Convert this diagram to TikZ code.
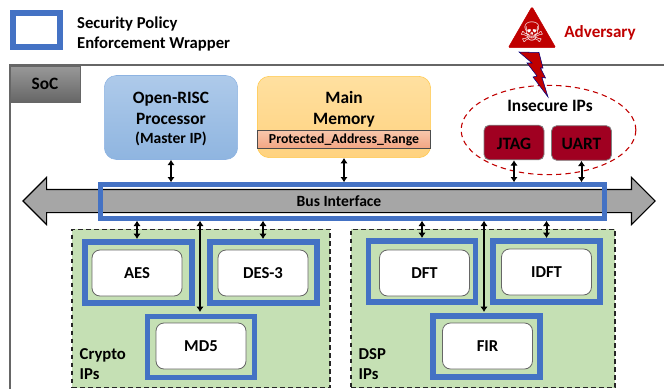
\documentclass[tikz,border=0pt]{standalone}
\usepackage{fontspec}
\usepackage{xcolor}
\usepackage{tikz}
\usetikzlibrary{arrows.meta,shapes.arrows,shapes.geometric}
\setmainfont{Carlito}
\newfontfamily\symbfont{DejaVu Sans}
\definecolor{wrapblue}{HTML}{4472C4}
\definecolor{groupgreen}{HTML}{C5E0B4}
\definecolor{insecred}{HTML}{A00021}
\definecolor{advred}{HTML}{C00000}
\definecolor{cpuedge}{HTML}{8DB3E2}
\definecolor{cputop}{HTML}{AECAEA}
\definecolor{cpubottom}{HTML}{8FB5E0}
\definecolor{memedge}{HTML}{FFC84A}
\definecolor{memtop}{HTML}{FFE0A0}
\definecolor{membottom}{HTML}{FFD27F}
\definecolor{rangetop}{HTML}{F8C8AC}
\definecolor{rangebottom}{HTML}{F3A684}

\begin{document}
\begin{tikzpicture}[x=0.75pt, y=-0.75pt, font=\bfseries\fontsize{12.5}{15.5}\selectfont,
  wrapper/.style={draw=wrapblue, line width=4.2pt, minimum width=80.5pt, minimum height=46pt},
  core/.style={draw=black!60, fill=white, rounded corners=6pt, line width=0.6pt, minimum width=67.5pt, minimum height=34.5pt},
  group/.style={draw=black!85, dash pattern=on 3.5pt off 2.5pt, fill=groupgreen, line width=0.8pt},
  insecure/.style={draw=black!50, fill=insecred, rounded corners=4pt, line width=0.6pt, minimum width=45pt, minimum height=26pt},
  biarrow/.style={{Latex[length=4pt,width=5.5pt]}-{Latex[length=4pt,width=5.5pt]}, line width=1.5pt}]
\useasboundingbox (0,0) rectangle (664,389);

% Legend
\node[wrapper, minimum width=35pt, minimum height=25.5pt, line width=4.5pt] (legend) at (36.5,30) {};
\node[align=left, anchor=west] (legendtext) at (72.5,34) {Security Policy\\Enforcement Wrapper};

% SoC
\draw[black!60, line width=0.8pt] (664,65) -- (10,65) -- (10,389);
\node[draw=black!60, top color=black!40, bottom color=black!60, minimum width=52.5pt, minimum height=27pt, font=\bfseries\fontsize{13}{15}\selectfont] (soc) at (45,84) {SoC};

% Masters and memory
\node[draw=cpuedge, top color=cputop, bottom color=cpubottom, rounded corners=9pt, minimum width=100pt, minimum height=63pt] (cpu) at (171,117.5) {};
\node[align=center, font=\bfseries\fontsize{13}{16}\selectfont] (cputext) at (171,119) {Open-RISC\\Processor\\[-2pt]{\fontsize{11.7}{13}\selectfont (Master IP)}};
\node[draw=memedge, top color=memtop, bottom color=membottom, rounded corners=9pt, minimum width=130pt, minimum height=61pt] (mem) at (344,117) {};
\node[align=center, font=\bfseries\fontsize{13}{16}\selectfont] (memtext) at (344,109.5) {Main\\Memory};
\node[draw=black!70, top color=rangetop, bottom color=rangebottom, minimum width=130pt, minimum height=13.5pt, inner sep=0pt, text height=6.5pt, text depth=0pt, font=\bfseries\fontsize{10.3}{11}\selectfont] (range) at (344,139) {Protected\_Address\_Range};

% Insecure IPs
\node[ellipse, draw=advred, dash pattern=on 4pt off 3pt, line width=0.8pt, minimum width=131pt, minimum height=67pt] (insecellipse) at (548.5,130) {};
\node[font=\bfseries\fontsize{13}{15}\selectfont] (insectext) at (550,106) {Insecure IPs};
\node[insecure, font=\bfseries\fontsize{13}{15}\selectfont] (jtag) at (514,142.5) {};
\node[insecure, font=\bfseries\fontsize{13}{15}\selectfont] (uart) at (581.5,143) {};
\node[font=\bfseries\fontsize{13}{15}\selectfont] (jtagtext) at (514,143.5) {JTAG};
\node[font=\bfseries\fontsize{13}{15}\selectfont] (uarttext) at (581.5,143.5) {UART};

% Adversary
\node[regular polygon, regular polygon sides=3, draw=advred, fill=advred, rounded corners=1pt, minimum size=41pt, inner sep=0pt] (triangle) at (532,34) {};
\node[text=white, font=\symbfont\fontsize{21}{21}\selectfont, inner sep=0pt] (skull) at (532,32) {☠};
\node[text=advred, font=\bfseries\fontsize{12.8}{15}\selectfont] (adversary) at (600,33) {Adversary};
\draw[draw=blue!50!black, fill=advred, line width=0.4pt] (519,52) -- (539,52.5) -- (543,68) -- (540.5,68) -- (545.5,78) -- (542,77.5) -- (548,97) -- (533,77) -- (537,76) -- (527,63) -- (532,63) -- cycle;

% Bus
\node[double arrow, draw=black, fill=black!35, line width=0.8pt, minimum height=474pt, double arrow head extend=9pt, text height=8pt, text depth=0pt, inner ysep=4.25pt, inner xsep=0pt, font=\bfseries\fontsize{11.7}{13}\selectfont] (bus) at (339,201) {Bus Interface};
\node[wrapper, line width=3.75pt, minimum width=378pt, minimum height=25pt] (buswrap) at (352,201.5) {};

% Crypto IPs
\node[group, minimum width=193.5pt, minimum height=119pt] (crypto) at (201,308.5) {};
\node[wrapper] (aeswrap) at (138.5,272.5) {};
\node[wrapper] (deswrap) at (263.5,272.5) {};
\node[wrapper] (md5wrap) at (201,347) {};
\node[core] (aes) at (137,273) {AES};
\node[core] (des) at (263,273) {DES-3};
\node[core] (md5) at (201,346) {MD5};
\node[align=left, anchor=west] (cryptotext) at (75,364) {Crypto\\IPs};

% DSP IPs
\node[group, minimum width=198pt, minimum height=119pt] (dsp) at (483,308.5) {};
\node[wrapper] (dftwrap) at (422,271.5) {};
\node[wrapper] (idftwrap) at (546.5,271.5) {};
\node[wrapper] (firwrap) at (486.5,346.5) {};
\node[core] (dft) at (424.5,273) {DFT};
\node[core] (idft) at (546.5,272) {IDFT};
\node[core] (fir) at (487.5,346) {FIR};
\node[align=left, anchor=west] (dsptext) at (354,364) {DSP\\IPs};

% Ends of the long arrows
\coordinate (cryptoend) at (200,312);
\coordinate (dspend) at (484,312);

% Lines
\draw[biarrow] (cpu.south) -- (cpu |- buswrap.north);
\draw[biarrow] (mem.south) -- (mem |- buswrap.north);
\draw[biarrow] (jtag.south) -- (jtag |- buswrap.north);
\draw[biarrow] (uart.south) -- (uart |- buswrap.north);
\draw[biarrow] (aeswrap.north -| aes) -- (aes |- buswrap.south);
\draw[biarrow] (deswrap.north -| des) -- (des |- buswrap.south);
\draw[biarrow] (dftwrap.north) -- (dftwrap |- buswrap.south);
\draw[biarrow] (idftwrap.north) -- (idftwrap |- buswrap.south);
\draw[biarrow] (cryptoend) -- (cryptoend |- buswrap.south);
\draw[biarrow] (dspend) -- (dspend |- buswrap.south);
\end{tikzpicture}
\end{document}
